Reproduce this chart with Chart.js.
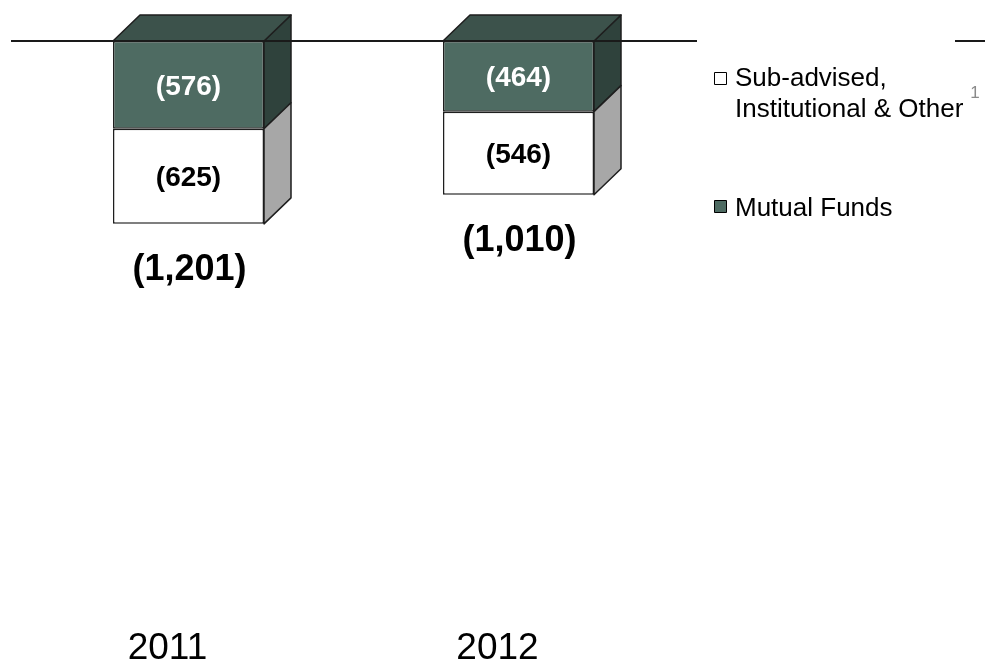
<!DOCTYPE html>
<html>
<head>
  <title>Net Flows by Year</title>
  <script src="https://cdn.jsdelivr.net/npm/chart.js"></script>
  <style>
    body { margin: 0; overflow: hidden; background: #fff; }
    #wrap { width: 985px; height: 700px; position: relative; }
  </style>
</head>
<body>
  <div id="wrap"><canvas id="myChart"></canvas></div>

  <script>
    // Data
    var years = ['2011', '2012'];
    var mutualFunds = [-576, -464];
    var subAdvised = [-625, -546];
    var totals = [-1201, -1010];

    var seriesNames = ['Mutual Funds', 'Sub-advised, Institutional & Other'];

    // colours for the 3D boxes
    var greenFront = '#4e6b62';
    var greenTop = '#3c524b';
    var greenSide = '#2f423c';
    var whiteSide = '#a7a7a7';
    var edge = '#1e1e1e';
    var depthX = 27, depthY = 26;

    function fmt(v) {
      return '(' + Math.abs(v).toLocaleString('en-US') + ')';
    }

    // draws top / side faces, labels, base line and legend
    var boxPlugin = {
      id: 'boxPlugin',
      afterDatasetsDraw: function(chart) {
        var c = chart.ctx;
        c.save();
        c.lineWidth = 1.5;
        c.lineJoin = 'round';
        c.strokeStyle = edge;
        chart.data.datasets.forEach(function(ds, di) {
          var meta = chart.getDatasetMeta(di);
          meta.data.forEach(function(el) {
            var top = Math.min(el.y, el.base), bot = Math.max(el.y, el.base);
            var L = el.x - el.width / 2, R = el.x + el.width / 2;
            // side face
            c.beginPath();
            c.moveTo(R, top);
            c.lineTo(R + depthX, top - depthY);
            c.lineTo(R + depthX, bot - depthY);
            c.lineTo(R, bot);
            c.closePath();
            c.fillStyle = di === 0 ? greenSide : whiteSide;
            c.fill();
            c.stroke();
            // top face only for the segment touching zero
            if (di === 0) {
              c.beginPath();
              c.moveTo(L, top);
              c.lineTo(L + depthX, top - depthY);
              c.lineTo(R + depthX, top - depthY);
              c.lineTo(R, top);
              c.closePath();
              c.fillStyle = greenTop;
              c.fill();
              c.stroke();
            }
          });
        });

        // segment labels
        c.textAlign = 'center';
        c.textBaseline = 'middle';
        c.font = 'bold 28px "Liberation Sans", Arial, sans-serif';
        chart.data.datasets.forEach(function(ds, di) {
          var meta = chart.getDatasetMeta(di);
          meta.data.forEach(function(el, i) {
            c.fillStyle = di === 0 ? '#ffffff' : '#000000';
            c.fillText(fmt(ds.data[i]), el.x, (el.y + el.base) / 2 + 2);
          });
        });

        // totals under each bar
        c.fillStyle = '#000';
        c.font = 'bold 36px "Liberation Sans", Arial, sans-serif';
        var lastMeta = chart.getDatasetMeta(chart.data.datasets.length - 1);
        lastMeta.data.forEach(function(el, i) {
          c.fillText(fmt(totals[i]), el.x + 1, Math.max(el.y, el.base) + 46);
        });

        // zero line
        var y0 = chart.scales.y.getPixelForValue(0);
        c.beginPath();
        c.lineWidth = 2;
        c.strokeStyle = '#1a1a1a';
        c.moveTo(11, y0);
        c.lineTo(985, y0);
        c.stroke();

        // legend box (white, covers the line)
        c.fillStyle = '#fff';
        c.fillRect(697, 30, 258, 200);
        c.lineWidth = 1;
        c.strokeStyle = '#000';
        c.textAlign = 'left';
        c.textBaseline = 'alphabetic';
        c.font = '26px "Liberation Sans", Arial, sans-serif';

        c.fillStyle = '#fff';
        c.fillRect(714.5, 72.5, 12, 12);
        c.strokeRect(714.5, 72.5, 12, 12);
        c.fillStyle = '#000';
        c.fillText('Sub-advised,', 735, 86);
        c.fillText('Institutional & Other', 735, 117);
        var w = c.measureText('Institutional & Other').width;
        c.fillStyle = '#8a8a8a';
        c.font = '17px "Liberation Sans", Arial, sans-serif';
        c.fillText('1', 735 + w + 7, 98);

        c.font = '26px "Liberation Sans", Arial, sans-serif';
        c.fillStyle = greenFront;
        c.fillRect(714.5, 200.5, 12, 12);
        c.strokeRect(714.5, 200.5, 12, 12);
        c.fillStyle = '#000';
        c.fillText('Mutual Funds', 735, 216);
        c.restore();
      }
    };

    var ctx = document.getElementById('myChart').getContext('2d');
    var myChart = new Chart(ctx, {
      type: 'bar',
      data: {
        labels: years,
        datasets: [{
          label: seriesNames[0],
          data: mutualFunds,
          backgroundColor: greenFront,
          borderColor: edge,
          borderWidth: 1.5,
          borderSkipped: false
        }, {
          label: seriesNames[1],
          data: subAdvised,
          backgroundColor: '#ffffff',
          borderColor: edge,
          borderWidth: 1.5,
          borderSkipped: false
        }]
      },
      options: {
        responsive: true,
        maintainAspectRatio: false,
        animation: false,
        datasets: {
          bar: { barPercentage: 0.4576, categoryPercentage: 1 }
        },
        layout: {
          padding: { left: 23.5, right: 301.5, top: 41, bottom: 25 }
        },
        plugins: {
          legend: { display: false },
          tooltip: { enabled: false }
        },
        scales: {
          x: {
            stacked: true,
            grid: { display: false, drawTicks: false },
            border: { display: false },
            ticks: {
              color: '#000',
              padding: 4,
              labelOffset: -21,
              font: { family: '"Liberation Sans", Arial, sans-serif', size: 37 }
            }
          },
          y: {
            stacked: true,
            display: false,
            min: -3820,
            max: 0
          }
        }
      },
      plugins: [boxPlugin]
    });
  </script>
</body>
</html>
